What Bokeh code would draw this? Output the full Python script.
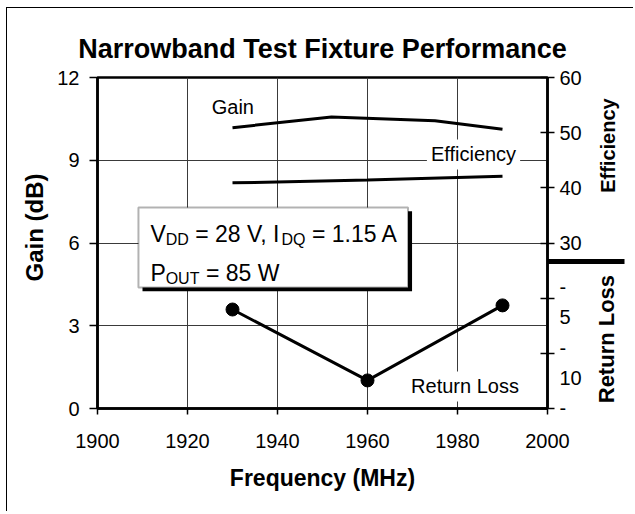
from math import pi
from bokeh.plotting import figure
from bokeh.models import Range1d, LinearAxis, FixedTicker, Label, BoxAnnotation, Title
from bokeh.embed import file_html
from bokeh.resources import INLINE

# ---- data ----
freq_gain = [1930, 1952, 1975, 1990]
gain_db = [10.18, 10.57, 10.43, 10.12]
freq_eff = [1930, 1960, 1990]
efficiency = [40.9, 41.4, 42.1]
freq_rl = [1930, 1960, 1990]
return_loss = [4.34, 10.2, 4.0]

x_ticks = [1900, 1920, 1940, 1960, 1980, 2000]
gain_ticks = [0, 3, 6, 9, 12]
eff_ticks = [0, 10, 20, 30, 40, 50, 60]
eff_labeled = [30, 40, 50, 60]
rl_ticks = [2.5, 5, 7.5, 10, 12.5]
rl_tick_labels = ["-", "5", "-", "10", "-"]

FONT = "Liberation Sans"

gain_range = Range1d(0, 12)
eff_range = Range1d(0, 60)
rl_range = Range1d(12.52, -14.83)

p = figure(width=627, height=504, output_backend="svg", toolbar_location=None,
           x_range=Range1d(1900, 2000), y_range=gain_range,
           min_border_left=90, min_border_right=86, min_border_top=69, min_border_bottom=104)
p.styles = {"margin-left": "6px", "margin-top": "7px",
            "border-left": "1px solid black", "border-top": "1px solid black"}
p.extra_y_ranges = {"eff": eff_range, "rl": rl_range}
p.background_fill_color = "white"
p.border_fill_color = "white"
p.outline_line_color = "black"
p.outline_line_width = 2.5

# title
p.title.text = "Narrowband Test Fixture Performance"
p.title.align = "center"
p.title.text_font = FONT
p.title.text_font_size = "27px"
p.title.text_font_style = "bold"
p.title.text_color = "black"
p.title.standoff = 28

# bottom / left axes
for ax in (p.xaxis[0], p.yaxis[0]):
    ax.axis_line_width = 2.5
    ax.axis_line_color = "black"
    ax.major_tick_line_width = 1.5
    ax.major_tick_line_color = "black"
    ax.minor_tick_line_color = None
    ax.major_label_text_font = FONT
    ax.major_label_text_font_size = "20px"
    ax.major_label_text_color = "black"
    ax.major_tick_in = 0
p.xaxis.ticker = FixedTicker(ticks=x_ticks)
p.yaxis.ticker = FixedTicker(ticks=gain_ticks)
p.xaxis.major_tick_out = 6
p.yaxis.major_tick_out = 8
p.xaxis.major_label_standoff = 19
p.yaxis.major_label_standoff = 10
p.xaxis.axis_label = "Frequency (MHz)"
p.xaxis.axis_label_text_font = FONT
p.xaxis.axis_label_text_font_size = "23px"
p.xaxis.axis_label_text_font_style = "bold"
p.xaxis.axis_label_text_color = "black"
p.xaxis.axis_label_standoff = 14

p.add_layout(Title(text="Gain (dB)", align="left", offset=127, text_font=FONT,
                   text_font_size="24px", text_font_style="bold", text_color="black",
                   standoff=14), "left")

def gain_of(v, rng):
    return gain_range.start + (v - rng.start) * (gain_range.end - gain_range.start) / (rng.end - rng.start)

def right_axis(**kw):
    ax = LinearAxis(**kw)
    ax.minor_tick_line_color = None
    p.add_layout(ax, "right")
    return ax

# right side: axis line, efficiency tick marks and the separator bar (a long minor tick)
sep_eff = 26.7
r1 = right_axis(y_range_name="eff", ticker=FixedTicker(ticks=eff_ticks, minor_ticks=[sep_eff]),
                major_label_overrides={t: "" for t in eff_ticks})
r1.axis_line_width = 2.5
r1.axis_line_color = "black"
r1.major_tick_line_width = 1.5
r1.major_tick_line_color = "black"
r1.major_tick_in = 7
r1.major_tick_out = 7
r1.minor_tick_in = 0
r1.minor_tick_out = 77
r1.minor_tick_line_width = 5
r1.minor_tick_line_color = "black"
r1.major_label_standoff = 0

# right side labels: efficiency 30..60 and the return-loss scale in one column
lab_vals = [float(t) for t in eff_labeled]
lab_text = [str(t) for t in eff_labeled]
for t, l in zip(rl_ticks, rl_tick_labels):
    lab_vals.append(round(5 * gain_of(t, rl_range), 5))
    lab_text.append(l)
r2 = right_axis(y_range_name="eff", ticker=FixedTicker(ticks=lab_vals, minor_ticks=[]),
                major_label_overrides=dict(zip(lab_vals, lab_text)))
r2.axis_line_color = None
r2.major_tick_line_color = None
r2.major_tick_out = 0
r2.major_tick_in = 0
r2.major_label_standoff = -65
r2.major_label_text_font = FONT
r2.major_label_text_font_size = "20px"
r2.major_label_text_color = "black"

# right side titles (tick label start = lower end of the rotated text)
for pos, txt, size, stand in [(7.82, "Efficiency", 20, -16), (0.19, "Return Loss", 22, -27)]:
    r3 = right_axis(ticker=FixedTicker(ticks=[pos], minor_ticks=[]),
                    major_label_overrides={pos: txt})
    r3.axis_line_color = None
    r3.major_tick_line_color = None
    r3.major_tick_out = 0
    r3.major_tick_in = 0
    r3.major_label_standoff = stand
    r3.major_label_orientation = pi / 2
    r3.major_label_text_font = FONT
    r3.major_label_text_font_size = f"{size}px"
    r3.major_label_text_font_style = "bold"
    r3.major_label_text_color = "black"

# grid
p.xgrid.ticker = FixedTicker(ticks=x_ticks)
p.ygrid.ticker = FixedTicker(ticks=gain_ticks)
for g in (p.xgrid[0], p.ygrid[0]):
    g.grid_line_color = "#3a3a3a"
    g.grid_line_width = 1

# series
p.line(freq_gain, gain_db, line_color="black", line_width=3)
p.line(freq_eff, efficiency, y_range_name="eff", line_color="black", line_width=3)
p.line(freq_rl, return_loss, y_range_name="rl", line_color="black", line_width=3)
p.scatter(freq_rl, return_loss, y_range_name="rl", size=13, color="black")

# conditions box with shadow
p.add_layout(BoxAnnotation(left=1910.0, right=1969.9, top=7.15, bottom=4.25,
                           fill_color="black", fill_alpha=1, line_color=None))
p.add_layout(BoxAnnotation(left=1909.1, right=1969.0, top=7.29, bottom=4.39,
                           fill_color="white", fill_alpha=1, line_color="black", line_width=2))

def lab(x, y, text, size, xo=0, **kw):
    L = Label(x=x, y=y, text=text, x_offset=xo, text_font=FONT, text_font_size=f"{size}px",
              text_color="black", **kw)
    p.add_layout(L)
    return L

bx = 1911.75
b1, b2 = 6.31, 4.91
sub = 0.19
sp = 6.4  # width of a space at 23px
lab(bx, b1, "V", 23, text_baseline="alphabetic")
lab(bx, b1 - sub, "DD", 16, xo=15.3, text_baseline="alphabetic")
lab(bx, b1, "= 28 V, I", 23, xo=38.4 + sp, text_baseline="alphabetic")
lab(bx, b1 - sub, "DQ", 16, xo=131.1, text_baseline="alphabetic")
lab(bx, b1, "= 1.15 A", 23, xo=155.1 + sp, text_baseline="alphabetic")
lab(bx, b2, "P", 23, text_baseline="alphabetic")
lab(bx, b2 - sub, "OUT", 16, xo=15.3, text_baseline="alphabetic")
lab(bx, b2, "= 85 W", 23, xo=49.1 + sp, text_baseline="alphabetic")

# series labels (white backgrounds hide the grid behind them)
for x, y, t in [(1924.5, 10.92, "Gain"), (1973.2, 9.21, "Efficiency"), (1968.8, 0.80, "Return Loss")]:
    lab(x, y, t, 20, text_baseline="middle", background_fill_color="white",
        background_fill_alpha=1, padding=4)

open("out.html", "w").write(file_html(p, INLINE))
